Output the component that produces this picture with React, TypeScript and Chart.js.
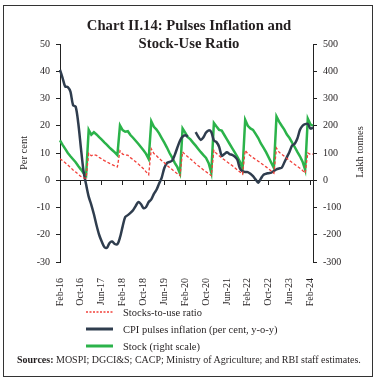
import React, { useEffect, useRef } from "react";
import { Chart, registerables } from "chart.js";

Chart.register(...registerables);

const FONT = "'Liberation Serif', 'Times New Roman', serif";

const TITLE_LINES = ["Chart II.14: Pulses Inflation and", "Stock-Use Ratio"];
const LEFT_AXIS_TITLE = "Per cent";
const RIGHT_AXIS_TITLE = "Lakh tonnes";
const SOURCE_LABEL = "Sources:";
const SOURCE_TEXT = " MOSPI; DGCI&S; CACP; Ministry of Agriculture; and RBI staff estimates.";

const MONTH_NAMES = ["Jan", "Feb", "Mar", "Apr", "May", "Jun", "Jul", "Aug", "Sep", "Oct", "Nov", "Dec"];
// Monthly categories Feb-16 ... Mar-24
const CATEGORIES: string[] = Array.from({ length: 98 }, (_, i) => {
  const k = 1 + i;
  return `${MONTH_NAMES[k % 12]}-${16 + Math.floor(k / 12)}`;
});
const TICK_EVERY = 8;

const LABEL_RATIO = "Stocks-to-use ratio";
const LABEL_CPI = "CPI pulses inflation (per cent, y-o-y)";
const LABEL_STOCK = "Stock (right scale)";

// Stocks-to-use ratio (per cent, left scale)
const RATIO: number[] = [
  7.9, 7.2, 6.4, 5.6, 4.7, 3.8, 3.0, 2.2, 1.4, 0.9, 0.8,
  9.9, 9.0, 9.4, 9.1, 8.4, 7.8, 7.2, 6.7, 6.2, 5.7, 5.3, 4.9,
  10.8, 9.6, 9.2, 9.2, 8.3, 7.6, 6.8, 6.0, 5.1, 4.2, 3.1, 2.0,
  11.5, 9.8, 9.0, 8.0, 7.2, 6.4, 5.5, 4.7, 3.9, 3.1, 2.4, 1.7,
  10.4, 9.4, 8.6, 7.8, 7.0, 6.1, 5.3, 4.6, 3.8, 3.1, 2.4, 1.7,
  11.0, 9.8, 9.0, 8.2, 7.5, 6.8, 6.1, 5.4, 4.6, 3.8, 3.0, 2.2,
  11.0, 9.7, 9.0, 8.3, 7.6, 7.0, 6.3, 5.6, 4.9, 4.2, 3.4, 2.6,
  11.8, 10.3, 9.5, 8.8, 8.0, 7.2, 6.5, 5.8, 5.1, 4.4, 3.6, 2.6,
  10.0, 9.5, 9.6,
];

// CPI pulses inflation (per cent, y-o-y)
const CPI: (number | null)[] = [
  40.5, 37.5, 34.4, 34.2, 32.5, 27.6, 27.0, 21.0, 12.0, 3.5, -1.5,
  -6.0, -9.0, -12.5, -16.5, -20.0, -22.5, -24.5, -24.8, -23.0, -22.5, -23.4, -23.5,
  -21.0, -17.0, -13.5, -12.8, -12.0, -11.0, -9.5, -8.0, -8.7, -10.2, -9.8, -8.0,
  -7.0, -5.0, -3.5, -1.2, 1.0, 4.5, 6.3, 6.7, 7.2, 9.3, 12.0, 14.5,
  16.0, 16.5, 16.0, null, null, 17.7, 16.0, 14.8, 15.8, 17.5, 18.3, 17.7,
  14.6, 14.0, 12.3, 9.0, 9.6, 10.3, 9.6, 9.3, 8.7, 7.5, 4.3, 3.3,
  3.0, 3.0, 2.4, 1.5, 0.3, -0.9, 0.6, 2.0, 2.4, 2.6, 2.8, 3.4,
  4.0, 4.3, 4.6, 6.5, 8.5, 10.5, 12.8, 13.4, 15.3, 18.5, 20.0, 20.6,
  20.7, 19.0, 19.3,
];

// Stock (lakh tonnes, right scale)
const STOCK: number[] = [
  146, 130, 115, 100, 88, 77, 66, 52, 40, 27, 17,
  185, 167, 176, 168, 158, 149, 139, 130, 120, 111, 102, 92,
  201, 184, 178, 180, 166, 156, 145, 134, 122, 110, 97, 78,
  216, 196, 186, 172, 155, 138, 120, 100, 83, 64, 48, 25,
  190, 175, 158, 150, 138, 127, 115, 103, 92, 82, 63, 28,
  210, 197, 185, 182, 166, 150, 134, 118, 102, 86, 68, 42,
  222, 200, 190, 185, 170, 155, 135, 120, 103, 84, 64, 45,
  234, 215, 200, 186, 168, 155, 138, 122, 104, 88, 68, 38,
  226, 205, 200,
];

const RED = "#f2403a";
const DARK = "#2f3d4e";
const GREEN = "#2bb34a";
const AXIS = "#222";
const TEXT = "#231f20";

const CANVAS_H = 320;
const X_AXIS_H = 58;

function ChartCanvas() {
  const ref = useRef<HTMLCanvasElement | null>(null);
  useEffect(() => {
    if (!ref.current) return;
    const tickFont = { family: FONT, size: 10 };
    const chart = new Chart(ref.current, {
      type: "line",
      data: {
        labels: CATEGORIES,
        datasets: [
          {
            label: LABEL_RATIO,
            data: RATIO,
            yAxisID: "y",
            borderColor: RED,
            borderWidth: 1.3,
            borderDash: [3, 2],
            pointRadius: 0,
            tension: 0,
          },
          {
            label: LABEL_CPI,
            data: CPI,
            yAxisID: "y",
            borderColor: DARK,
            borderWidth: 2.5,
            pointRadius: 0,
            tension: 0.3,
            spanGaps: false,
          },
          {
            label: LABEL_STOCK,
            data: STOCK,
            yAxisID: "y1",
            borderColor: GREEN,
            borderWidth: 2.5,
            pointRadius: 0,
            tension: 0,
          },
        ],
      },
      options: {
        responsive: false,
        animation: false,
        devicePixelRatio: 1,
        layout: { padding: { left: 4, right: 4, top: 44, bottom: 0 } },
        plugins: { legend: { display: false }, tooltip: { enabled: false }, title: { display: false } },
        scales: {
          x: {
            type: "category",
            position: "bottom",
            grid: { display: false },
            border: { display: false },
            ticks: {
              autoSkip: false,
              maxRotation: 90,
              minRotation: 90,
              padding: 8,
              font: tickFont,
              color: TEXT,
              callback: (_v: any, i: number) => (i % TICK_EVERY === 0 ? CATEGORIES[i] : ""),
            },
            afterFit: (s: any) => {
              s.height = X_AXIS_H;
            },
          },
          x0: {
            type: "category",
            axis: "x",
            position: { y: 0 },
            grid: {
              drawOnChartArea: false,
              drawTicks: true,
              tickLength: 4,
              color: (c: any) => (c.index % TICK_EVERY === 0 ? AXIS : "rgba(0,0,0,0)"),
            },
            border: { display: true, color: AXIS, width: 1 },
            ticks: { display: false, autoSkip: false },
          },
          y: {
            position: "left",
            min: -30,
            max: 50,
            ticks: { stepSize: 10, padding: 6, font: tickFont, color: TEXT },
            grid: { drawOnChartArea: false, tickLength: 4, color: AXIS },
            border: { color: AXIS, width: 1 },
            afterFit: (s: any) => {
              s.width = 56;
            },
          },
          y1: {
            position: "right",
            min: -300,
            max: 500,
            ticks: { stepSize: 100, padding: 6, font: tickFont, color: TEXT },
            grid: { drawOnChartArea: false, tickLength: 4, color: AXIS },
            border: { color: AXIS, width: 1 },
            afterFit: (s: any) => {
              s.width = 61;
            },
          },
        },
      } as any,
    });
    return () => chart.destroy();
  }, []);
  return (
    <canvas
      ref={ref}
      width={378}
      height={CANVAS_H}
      style={{ position: "absolute", left: 0, top: 0, width: 378, height: CANVAS_H }}
    />
  );
}

function LegendRow({ y, kind, label }: { y: number; kind: "dash" | "dark" | "green"; label: string }) {
  const stroke = kind === "dash" ? RED : kind === "dark" ? DARK : GREEN;
  return (
    <div style={{ position: "absolute", left: 86, top: y - 8, height: 16, display: "flex", alignItems: "center" }}>
      <svg width={27} height={6} style={{ display: "block" }}>
        <line
          x1={0}
          y1={3}
          x2={27}
          y2={3}
          stroke={stroke}
          strokeWidth={kind === "dash" ? 1.3 : 3}
          strokeDasharray={kind === "dash" ? "2 1.5" : undefined}
        />
      </svg>
      <span style={{ marginLeft: 10, fontFamily: FONT, fontSize: 10.5, color: TEXT, whiteSpace: "nowrap" }}>{label}</span>
    </div>
  );
}

export default function App() {
  return (
    <div style={{ position: "absolute", left: 0, top: 0, width: 378, height: 382, background: "#fff", overflow: "hidden" }}>
      <ChartCanvas />
      <div
        style={{
          position: "absolute",
          left: 3,
          top: 5,
          width: 370,
          height: 372,
          border: "1.5px solid #333",
          boxSizing: "border-box",
          pointerEvents: "none",
        }}
      />
      <div
        style={{
          position: "absolute",
          left: 0,
          top: 16,
          width: 378,
          textAlign: "center",
          fontFamily: FONT,
          fontWeight: "bold",
          fontSize: 14.7,
          lineHeight: "18px",
          color: TEXT,
        }}
      >
        {TITLE_LINES.map((t) => (
          <div key={t}>{t}</div>
        ))}
      </div>
      <div
        style={{
          position: "absolute",
          left: 23,
          top: 153,
          transform: "translate(-50%, -50%) rotate(-90deg)",
          fontFamily: FONT,
          fontSize: 10.5,
          color: TEXT,
          whiteSpace: "nowrap",
        }}
      >
        {LEFT_AXIS_TITLE}
      </div>
      <div
        style={{
          position: "absolute",
          left: 359,
          top: 152,
          transform: "translate(-50%, -50%) rotate(-90deg)",
          fontFamily: FONT,
          fontSize: 10.5,
          color: TEXT,
          whiteSpace: "nowrap",
        }}
      >
        {RIGHT_AXIS_TITLE}
      </div>
      <LegendRow y={312} kind="dash" label={LABEL_RATIO} />
      <LegendRow y={329} kind="dark" label={LABEL_CPI} />
      <LegendRow y={346} kind="green" label={LABEL_STOCK} />
      <div
        style={{
          position: "absolute",
          left: 17,
          top: 353,
          height: 14,
          lineHeight: "14px",
          fontFamily: FONT,
          fontSize: 10,
          color: TEXT,
          whiteSpace: "nowrap",
        }}
      >
        <b>{SOURCE_LABEL}</b>
        {SOURCE_TEXT}
      </div>
    </div>
  );
}
